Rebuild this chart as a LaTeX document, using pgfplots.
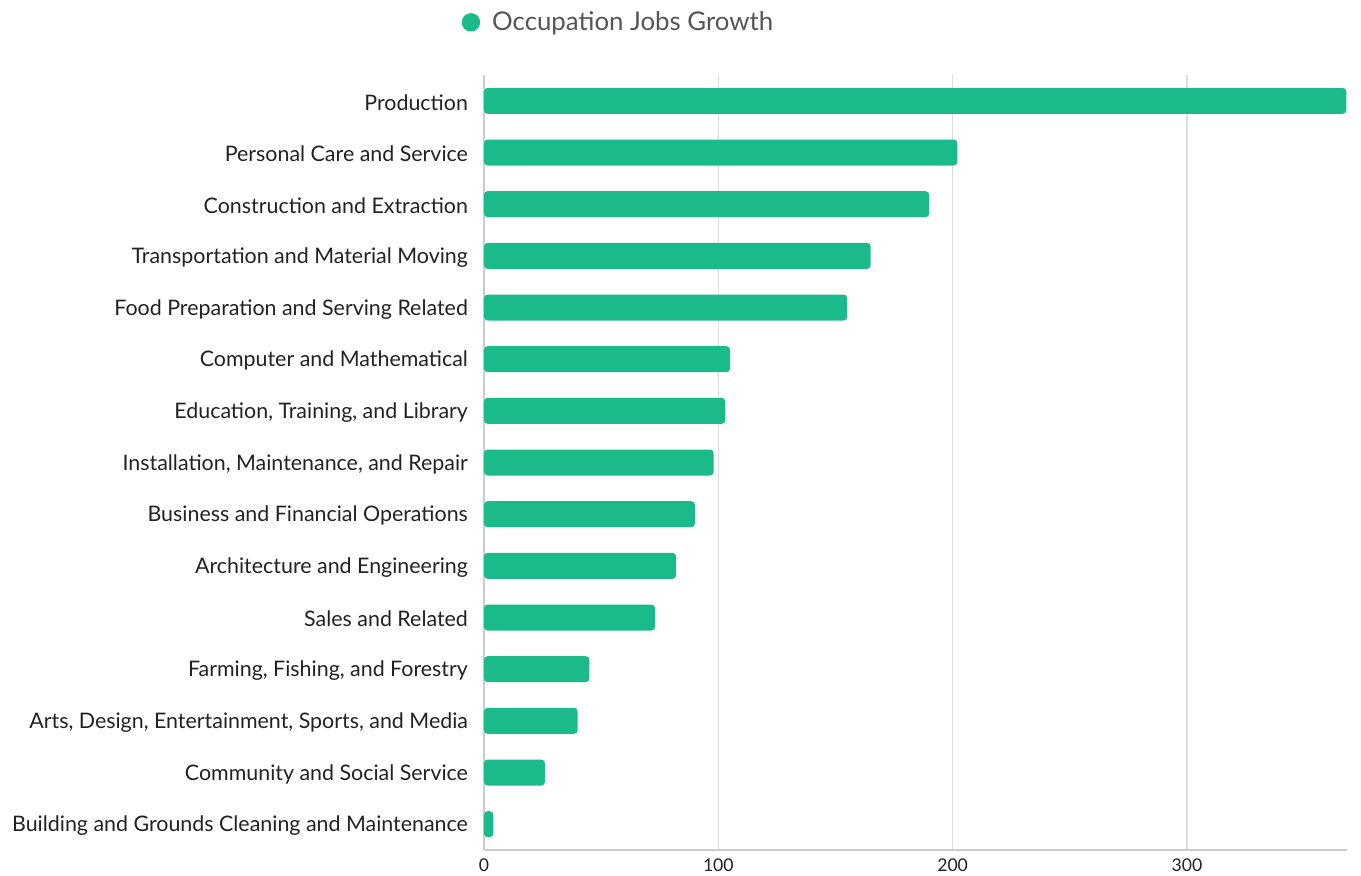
\documentclass[border=0pt]{standalone}
\usepackage{fontspec}
\setmainfont{Lato}
\usepackage{pgfplots}
\pgfplotsset{compat=1.18}
\definecolor{bargreen}{HTML}{1BBA8A}
\definecolor{gridgray}{HTML}{DDDDDD}
\definecolor{axisgray}{HTML}{CCCCCC}
\definecolor{legtext}{HTML}{555555}
\definecolor{labtext}{HTML}{222222}
\begin{document}
\begin{tikzpicture}
\path[use as bounding box] (-242pt,-12.5pt) rectangle (438.5pt,425pt);
\begin{axis}[
  scale only axis,
  width=431.5pt, height=387.5pt,
  anchor=south west, at={(0,0)},
  xbar, bar width=13pt,
  y dir=reverse,
  xmin=0, xmax=368.3,
  ymin=-0.5, ymax=14.5,
  ytick={0,...,14},
  yticklabels={Production,Personal Care and Service,Construction and Extraction,Transportation and Material Moving,Food Preparation and Serving Related,Computer and Mathematical,{Education, Training, and Library},{Installation, Maintenance, and Repair},Business and Financial Operations,Architecture and Engineering,Sales and Related,{Farming, Fishing, and Forestry},{Arts, Design, Entertainment, Sports, and Media},Community and Social Service,Building and Grounds Cleaning and Maintenance},
  xtick={0,100,200,300},
  /pgf/number format/assume math mode=true,
  major tick length=0pt,
  xmajorgrids, major grid style={gridgray, line width=0.6pt},
  axis x line*=bottom, axis y line*=left,
  axis line style={axisgray, line width=0.8pt, -},
  yticklabel style={font=\fontsize{10.7}{12}\selectfont, text=labtext, xshift=-4.5pt, yshift=-0.8pt},
  xticklabel style={font=\fontsize{8.8}{10}\selectfont, text=labtext, yshift=-1pt},
  legend style={at={(rel axis cs:0.157,1.068)}, anchor=center, draw=none, fill=none,
    font=\fontsize{12.9}{15}\selectfont, text=legtext, legend cell align=left},
  legend image code/.code={\fill[bargreen] (0.2cm,0cm) circle (4.6pt);},
]
\addplot[fill=bargreen, draw=none, rounded corners=1.8pt] coordinates {
(368,0) (202,1) (190,2) (165,3) (155,4) (105,5) (103,6) (98,7) (90,8) (82,9) (73,10) (45,11) (40,12) (26,13) (4,14)};
\addlegendentry{\hspace{4pt}Occupation Jobs Growth}
\end{axis}
\end{tikzpicture}
\end{document}
